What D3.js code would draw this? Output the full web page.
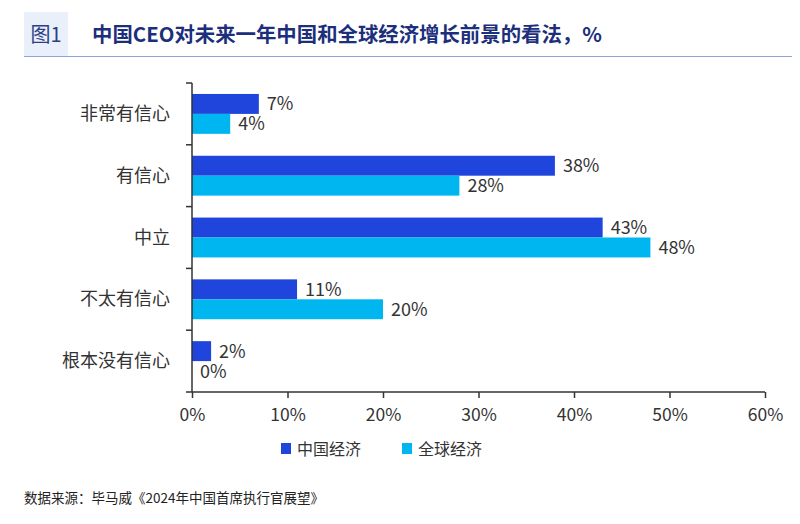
<!DOCTYPE html>
<html>
<head>
<meta charset="utf-8">
<script src="https://cdn.jsdelivr.net/npm/d3@7"></script>
<style>
  body { margin: 0; background: #fff; }
  svg text { font-family: "Noto Sans CJK SC", "Noto Sans", sans-serif; }
</style>
</head>
<body>
<div id="chart"></div>
<script>
var categories = ["非常有信心", "有信心", "中立", "不太有信心", "根本没有信心"];
var seriesNames = ["中国经济", "全球经济"];
var chinaValues = [7, 38, 43, 11, 2];
var globalValues = [4, 28, 48, 20, 0];
var xTicks = [0, 10, 20, 30, 40, 50, 60];
var colors = ["#1f45dc", "#00b6f1"];

var width = 800, height = 524;
var margin = {top: 83, right: 35, bottom: 132, left: 192};

var svg = d3.select("#chart").append("svg")
    .attr("width", width)
    .attr("height", height);

// title block
svg.append("rect")
    .attr("x", 24).attr("y", 12)
    .attr("width", 44).attr("height", 44)
    .attr("fill", "#e9f0fa");
svg.append("text")
    .attr("x", 46).attr("y", 42)
    .attr("text-anchor", "middle")
    .attr("font-size", 20)
    .attr("fill", "#2a3f86")
    .text("图1");
svg.append("text")
    .attr("x", 92).attr("y", 42)
    .attr("font-size", 20.4)
    .attr("font-weight", "bold")
    .attr("fill", "#1c2f7c")
    .text("中国CEO对未来一年中国和全球经济增长前景的看法，%");
svg.append("line")
    .attr("x1", 24).attr("x2", 792)
    .attr("y1", 56.5).attr("y2", 56.5)
    .attr("stroke", "#8ea4da")
    .attr("stroke-width", 1.2);

var x = d3.scaleLinear()
    .domain([0, 60])
    .range([margin.left, width - margin.right]);

var y = d3.scaleBand()
    .domain(categories)
    .range([margin.top, height - margin.bottom]);

var inner = d3.scaleBand()
    .domain(seriesNames)
    .range([0, y.bandwidth()])
    .paddingOuter(0.55);

var data = categories.map(function(c, i) {
    return {cat: c, values: [chinaValues[i], globalValues[i]]};
});

var groups = svg.selectAll(".cat")
    .data(data)
    .enter().append("g")
    .attr("class", "cat")
    .attr("transform", function(d) { return "translate(0," + y(d.cat) + ")"; });

groups.selectAll("rect")
    .data(function(d) { return d.values.map(function(v, j) { return {v: v, s: seriesNames[j], j: j}; }); })
    .enter().append("rect")
    .attr("x", x(0))
    .attr("y", function(d) { return inner(d.s); })
    .attr("width", function(d) { return x(d.v) - x(0); })
    .attr("height", inner.bandwidth())
    .attr("fill", function(d) { return colors[d.j]; });

groups.selectAll(".val")
    .data(function(d) { return d.values.map(function(v, j) { return {v: v, s: seriesNames[j]}; }); })
    .enter().append("text")
    .attr("class", "val")
    .attr("x", function(d) { return x(d.v) + 8; })
    .attr("y", function(d) { return inner(d.s) + inner.bandwidth() / 2 + 6.5; })
    .attr("font-size", 18)
    .attr("fill", "#333")
    .text(function(d) { return d.v + "%"; });

// axes
var xAxis = d3.axisBottom(x)
    .tickValues(xTicks)
    .tickFormat(function(d) { return d + "%"; })
    .tickSize(6)
    .tickPadding(11);

var gx = svg.append("g")
    .attr("transform", "translate(0," + (height - margin.bottom) + ")")
    .call(xAxis);
gx.select(".domain").attr("stroke", "#333").attr("stroke-width", 1.5)
    .attr("d", "M" + x(0) + ",0H" + x(60));
gx.selectAll(".tick line").attr("stroke", "#333").attr("stroke-width", 1.5);
gx.selectAll(".tick text")
    .attr("font-size", 17.5)
    .attr("fill", "#333")
    .attr("font-family", "'Noto Sans', sans-serif");

var yEdges = categories.map(function(c) { return y(c); }).concat([y.range()[1]]);
var gy = svg.append("g");
gy.append("line")
    .attr("x1", x(0)).attr("x2", x(0))
    .attr("y1", y.range()[0]).attr("y2", y.range()[1])
    .attr("stroke", "#333").attr("stroke-width", 1.5);
gy.selectAll(".ytick")
    .data(yEdges)
    .enter().append("line")
    .attr("x1", x(0) - 6).attr("x2", x(0))
    .attr("y1", function(d) { return d; }).attr("y2", function(d) { return d; })
    .attr("stroke", "#333").attr("stroke-width", 1.5);
gy.selectAll(".ylab")
    .data(categories)
    .enter().append("text")
    .attr("x", 170)
    .attr("y", function(d) { return y(d) + y.bandwidth() / 2 + 6; })
    .attr("text-anchor", "end")
    .attr("font-size", 18)
    .attr("fill", "#333")
    .text(function(d) { return d; });

// legend
var legendX = [281, 402];
var legend = svg.selectAll(".legend")
    .data(seriesNames)
    .enter().append("g")
    .attr("class", "legend")
    .attr("transform", function(d, i) { return "translate(" + legendX[i] + ",443)"; });
legend.append("rect")
    .attr("width", 10).attr("height", 11)
    .attr("fill", function(d, i) { return colors[i]; });
legend.append("text")
    .attr("x", 16).attr("y", 11.5)
    .attr("font-size", 16)
    .attr("fill", "#333")
    .text(function(d) { return d; });

svg.append("text")
    .attr("x", 24).attr("y", 503)
    .attr("font-size", 13.5)
    .attr("fill", "#222")
    .text("数据来源：毕马威《2024年中国首席执行官展望》");
</script>
</body>
</html>
